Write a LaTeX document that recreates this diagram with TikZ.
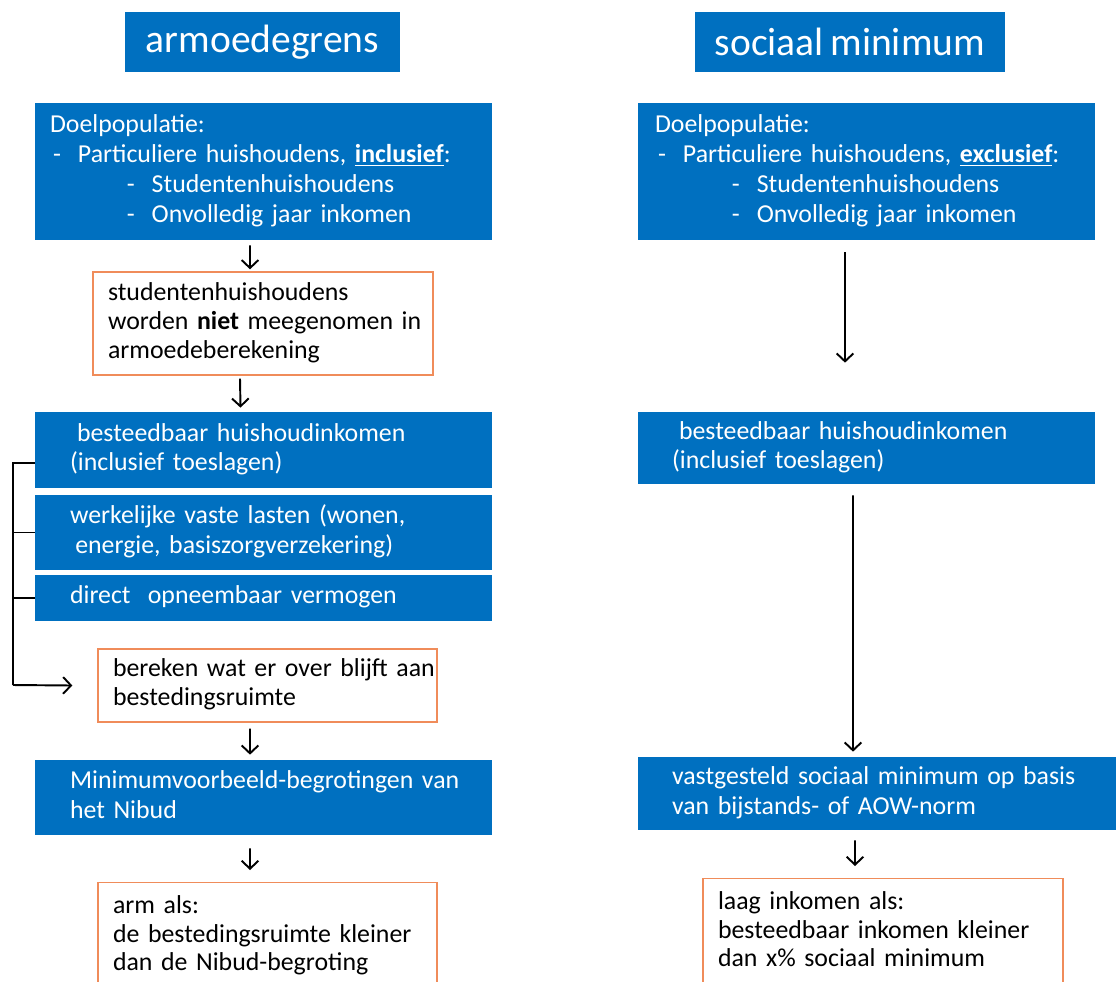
\documentclass[tikz,border=0pt]{standalone}
\usepackage{fontspec}
\setmainfont{Carlito}[WordSpace=0.75]
\usepackage{xcolor}
\usetikzlibrary{calc,positioning}
\usetikzlibrary{arrows,arrows.meta}

\definecolor{boxblue}{RGB}{0,112,192}
\definecolor{boxorange}{RGB}{240,140,90}

% lines of a box, kept unbroken
\newcommand{\lns}[1]{\begin{tabular}{@{}l@{}}#1\end{tabular}}
% dash in the list of the population box
\newcommand{\lstdash}[1]{\hspace*{#1}\makebox[14.2pt][l]{-}}

\begin{document}
\begin{tikzpicture}[x=0.02cm,y=-0.02cm]
      \tikzstyle{hnode} = [fill=boxblue, text=white, minimum height=1.2cm, font=\fontsize{22.5}{26}\selectfont]
      \tikzstyle{bnode} = [fill=boxblue, text=white, align=left, inner xsep=0.7cm, font=\fontsize{14.7}{17}\selectfont]
      \tikzstyle{onode} = [draw=boxorange, line width=0.8pt, fill=white, align=left, inner xsep=0.3cm, font=\fontsize{14.7}{16.5}\selectfont]
      \tikzstyle{arr} = [-{Straight Barb[length=4.5pt,width=9.5pt]}, line width=1.1pt]
      \tikzstyle{lin} = [line width=1.1pt]

      \useasboundingbox (0,0) rectangle (1118,981);
      \clip (0,0) rectangle (1118,981);

      % headers
      \node[hnode, minimum width=5.5cm] (hdA) at (262.5,42) {armoedegrens};
      \node[hnode, minimum width=6.2cm] (hdB) at (850,42) {sociaal minimum};

      % left column: armoedegrens
      \node[bnode, inner xsep=0.3cm, text width=8.54cm, minimum height=2.74cm] (dpA) at (263.5,171.5)
        {\lns{Doelpopulatie:\\
         \lstdash{1.7pt}Particuliere huishoudens, \underline{\textbf{inclusief}}:\\
         \lstdash{43.7pt}Studentenhuishoudens\\
         \lstdash{43.7pt}Onvolledig jaar inkomen}};
      \node[onode, text width=6.2cm, minimum height=2.06cm] (stud) at (263,323.5)
        {\lns{studentenhuishoudens\\ worden \textbf{niet} meegenomen in\\ armoedeberekening}};
      \node[bnode, text width=7.74cm, minimum height=1.52cm] (biA) at (263.5,450)
        {\lns{\hspace*{4pt}besteedbaar huishoudinkomen\\ (inclusief toeslagen)}};
      \node[bnode, text width=7.74cm, minimum height=1.5cm] (vlA) at (263.5,532.5)
        {\lns{werkelijke vaste lasten (wonen,\\ \hspace*{3pt}energie, basiszorgverzekering)}};
      \node[bnode, text width=7.74cm, minimum height=0.92cm] (dvA) at (263.5,598)
        {\lns{direct\ \ opneembaar vermogen}};
      \node[onode, text width=6.18cm, minimum height=1.46cm] (ber) at (267.5,685.5)
        {\lns{bereken wat er over blijft aan\\ bestedingsruimte}};
      \node[bnode, text width=7.74cm, minimum height=1.5cm] (nib) at (263.5,797.5)
        {\lns{Minimumvoorbeeld-begrotingen van\\ het Nibud}};
      \node[onode, anchor=north, text width=6.18cm, inner ysep=0.2cm] (arm) at (267.5,882)
        {\lns{arm als:\\ de bestedingsruimte kleiner\\ dan de Nibud-begroting\\ ~}};

      % right column: sociaal minimum
      \node[bnode, inner xsep=0.34cm, text width=8.46cm, minimum height=2.74cm] (dpB) at (866.5,171.5)
        {\lns{Doelpopulatie:\\
         \lstdash{1.7pt}Particuliere huishoudens, \underline{\textbf{exclusief}}:\\
         \lstdash{43.7pt}Studentenhuishoudens\\
         \lstdash{43.7pt}Onvolledig jaar inkomen}};
      \node[bnode, inner xsep=0.68cm, text width=7.78cm, minimum height=1.44cm] (biB) at (866.5,448)
        {\lns{\hspace*{4pt}besteedbaar huishoudinkomen\\ (inclusief toeslagen)}};
      \node[bnode, inner xsep=0.68cm, text width=8.2cm, minimum height=1.46cm] (smB) at (877,793.5)
        {\lns{vastgesteld sociaal minimum op basis\\ van bijstands- of AOW-norm}};
      \node[onode, anchor=north, text width=6.6cm, inner ysep=0.2cm] (laag) at (883,878)
        {\lns{laag inkomen als:\\ besteedbaar inkomen kleiner\\ dan x\% sociaal minimum\\ ~}};

      % connections
      \draw[arr] ([xshift=-0.27cm, yshift=-0.1cm]dpA.south) -- ([xshift=-0.26cm, yshift=0.04cm]stud.north);
      \draw[arr] ([xshift=-0.46cm, yshift=-0.06cm]stud.south) -- ([xshift=-0.46cm, yshift=0.08cm]biA.north);
      \draw[arr] ([xshift=-0.35cm, yshift=-0.12cm]ber.south) -- ([xshift=-0.27cm, yshift=0.1cm]nib.north);
      \draw[arr] ([xshift=-0.27cm, yshift=-0.26cm]nib.south) -- ([xshift=-0.35cm, yshift=0.24cm]arm.north);

      % bracket
      \coordinate (brk) at (13,685);
      \draw[lin] ([yshift=-0.26cm]biA.west) -- ([yshift=-0.26cm]biA.west -| brk) -- (brk);
      \draw[lin] (vlA.west) -- (vlA.west -| brk);
      \draw[lin] (dvA.west) -- (dvA.west -| brk);
      \draw[arr] (brk) -- ([xshift=-0.5cm]ber.west);

      \draw[arr] ([xshift=-0.43cm, yshift=-0.24cm]dpB.south) -- ([xshift=-0.43cm, yshift=0.98cm]biB.north);
      \draw[arr] ([xshift=-0.27cm, yshift=-0.22cm]biB.south) -- ([xshift=-0.48cm, yshift=0.1cm]smB.north);
      \draw[arr] ([xshift=-0.44cm, yshift=-0.2cm]smB.south) -- ([xshift=-0.56cm, yshift=0.24cm]laag.north);
\end{tikzpicture}
\end{document}
